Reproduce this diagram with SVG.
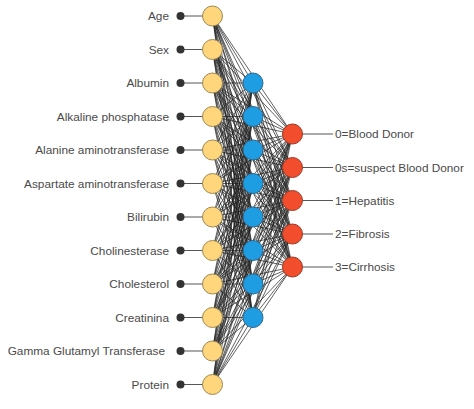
<svg xmlns="http://www.w3.org/2000/svg" width="474" height="409" viewBox="0 0 474 409">
<style>
.lbl{font-family:"Liberation Sans",Arial,sans-serif;font-size:11.8px;fill:#4a4a4a}
.inl{font-family:"Liberation Sans",Arial,sans-serif;font-size:11.8px;fill:#4a4a4a;text-anchor:end}
.lead{stroke:#555;stroke-width:1;fill:none}
.net{stroke:#1e1e1e;stroke-width:0.7;fill:none}
.dot{fill:#333}
.in{fill:#FFD67C;stroke:#9C8852;stroke-width:1}
.hid{fill:#1E9DE2;stroke:#2D6990;stroke-width:1}
.out{fill:#F24D2C;stroke:#9A3A26;stroke-width:1}
</style>
<rect width="474" height="409" fill="#fff"/>
<g id="connectors">
<path class="net" d="M212.5 16L253 83M212.5 16L253 116.5M212.5 16L253 150M212.5 16L253 183.5M212.5 16L253 217M212.5 16L253 250.5M212.5 16L253 284M212.5 16L253 317.5M212.5 16L292.5 134M212.5 16L292.5 167.5M212.5 16L292.5 200.5M212.5 16L292.5 234M212.5 16L292.5 267"/>
<path class="net" d="M212.5 49.5L253 83M212.5 49.5L253 116.5M212.5 49.5L253 150M212.5 49.5L253 183.5M212.5 49.5L253 217M212.5 49.5L253 250.5M212.5 49.5L253 284M212.5 49.5L253 317.5M212.5 49.5L292.5 134M212.5 49.5L292.5 167.5M212.5 49.5L292.5 200.5M212.5 49.5L292.5 234M212.5 49.5L292.5 267"/>
<path class="net" d="M212.5 83L253 83M212.5 83L253 116.5M212.5 83L253 150M212.5 83L253 183.5M212.5 83L253 217M212.5 83L253 250.5M212.5 83L253 284M212.5 83L253 317.5M212.5 83L292.5 134M212.5 83L292.5 167.5M212.5 83L292.5 200.5M212.5 83L292.5 234M212.5 83L292.5 267"/>
<path class="net" d="M212.5 116.5L253 83M212.5 116.5L253 116.5M212.5 116.5L253 150M212.5 116.5L253 183.5M212.5 116.5L253 217M212.5 116.5L253 250.5M212.5 116.5L253 284M212.5 116.5L253 317.5M212.5 116.5L292.5 134M212.5 116.5L292.5 167.5M212.5 116.5L292.5 200.5M212.5 116.5L292.5 234M212.5 116.5L292.5 267"/>
<path class="net" d="M212.5 150L253 83M212.5 150L253 116.5M212.5 150L253 150M212.5 150L253 183.5M212.5 150L253 217M212.5 150L253 250.5M212.5 150L253 284M212.5 150L253 317.5M212.5 150L292.5 134M212.5 150L292.5 167.5M212.5 150L292.5 200.5M212.5 150L292.5 234M212.5 150L292.5 267"/>
<path class="net" d="M212.5 183.5L253 83M212.5 183.5L253 116.5M212.5 183.5L253 150M212.5 183.5L253 183.5M212.5 183.5L253 217M212.5 183.5L253 250.5M212.5 183.5L253 284M212.5 183.5L253 317.5M212.5 183.5L292.5 134M212.5 183.5L292.5 167.5M212.5 183.5L292.5 200.5M212.5 183.5L292.5 234M212.5 183.5L292.5 267"/>
<path class="net" d="M212.5 217L253 83M212.5 217L253 116.5M212.5 217L253 150M212.5 217L253 183.5M212.5 217L253 217M212.5 217L253 250.5M212.5 217L253 284M212.5 217L253 317.5M212.5 217L292.5 134M212.5 217L292.5 167.5M212.5 217L292.5 200.5M212.5 217L292.5 234M212.5 217L292.5 267"/>
<path class="net" d="M212.5 250.5L253 83M212.5 250.5L253 116.5M212.5 250.5L253 150M212.5 250.5L253 183.5M212.5 250.5L253 217M212.5 250.5L253 250.5M212.5 250.5L253 284M212.5 250.5L253 317.5M212.5 250.5L292.5 134M212.5 250.5L292.5 167.5M212.5 250.5L292.5 200.5M212.5 250.5L292.5 234M212.5 250.5L292.5 267"/>
<path class="net" d="M212.5 284L253 83M212.5 284L253 116.5M212.5 284L253 150M212.5 284L253 183.5M212.5 284L253 217M212.5 284L253 250.5M212.5 284L253 284M212.5 284L253 317.5M212.5 284L292.5 134M212.5 284L292.5 167.5M212.5 284L292.5 200.5M212.5 284L292.5 234M212.5 284L292.5 267"/>
<path class="net" d="M212.5 317.5L253 83M212.5 317.5L253 116.5M212.5 317.5L253 150M212.5 317.5L253 183.5M212.5 317.5L253 217M212.5 317.5L253 250.5M212.5 317.5L253 284M212.5 317.5L253 317.5M212.5 317.5L292.5 134M212.5 317.5L292.5 167.5M212.5 317.5L292.5 200.5M212.5 317.5L292.5 234M212.5 317.5L292.5 267"/>
<path class="net" d="M212.5 351L253 83M212.5 351L253 116.5M212.5 351L253 150M212.5 351L253 183.5M212.5 351L253 217M212.5 351L253 250.5M212.5 351L253 284M212.5 351L253 317.5M212.5 351L292.5 134M212.5 351L292.5 167.5M212.5 351L292.5 200.5M212.5 351L292.5 234M212.5 351L292.5 267"/>
<path class="net" d="M212.5 384.5L253 83M212.5 384.5L253 116.5M212.5 384.5L253 150M212.5 384.5L253 183.5M212.5 384.5L253 217M212.5 384.5L253 250.5M212.5 384.5L253 284M212.5 384.5L253 317.5M212.5 384.5L292.5 134M212.5 384.5L292.5 167.5M212.5 384.5L292.5 200.5M212.5 384.5L292.5 234M212.5 384.5L292.5 267"/>
<path class="net" d="M253 83L292.5 134M253 83L292.5 167.5M253 83L292.5 200.5M253 83L292.5 234M253 83L292.5 267"/>
<path class="net" d="M253 116.5L292.5 134M253 116.5L292.5 167.5M253 116.5L292.5 200.5M253 116.5L292.5 234M253 116.5L292.5 267"/>
<path class="net" d="M253 150L292.5 134M253 150L292.5 167.5M253 150L292.5 200.5M253 150L292.5 234M253 150L292.5 267"/>
<path class="net" d="M253 183.5L292.5 134M253 183.5L292.5 167.5M253 183.5L292.5 200.5M253 183.5L292.5 234M253 183.5L292.5 267"/>
<path class="net" d="M253 217L292.5 134M253 217L292.5 167.5M253 217L292.5 200.5M253 217L292.5 234M253 217L292.5 267"/>
<path class="net" d="M253 250.5L292.5 134M253 250.5L292.5 167.5M253 250.5L292.5 200.5M253 250.5L292.5 234M253 250.5L292.5 267"/>
<path class="net" d="M253 284L292.5 134M253 284L292.5 167.5M253 284L292.5 200.5M253 284L292.5 234M253 284L292.5 267"/>
<path class="net" d="M253 317.5L292.5 134M253 317.5L292.5 167.5M253 317.5L292.5 200.5M253 317.5L292.5 234M253 317.5L292.5 267"/>
<path class="lead" d="M180.5 16H203M180.5 49.5H203M180.5 83H203M180.5 116.5H203M180.5 150H203M180.5 183.5H203M180.5 217H203M180.5 250.5H203M180.5 284H203M180.5 317.5H203M180.5 351H203M180.5 384.5H203"/>
<path class="lead" d="M302 134H333M302 167.5H333M302 200.5H333M302 234H333M302 267H333"/>
</g>
<g id="in-age"><text class="inl" x="169" y="20">Age</text><circle class="dot" cx="180.5" cy="16" r="4"/><circle class="in" cx="212.5" cy="16" r="10"/></g>
<g id="in-sex"><text class="inl" x="169" y="53.5">Sex</text><circle class="dot" cx="180.5" cy="49.5" r="4"/><circle class="in" cx="212.5" cy="49.5" r="10"/></g>
<g id="in-albumin"><text class="inl" x="169" y="87">Albumin</text><circle class="dot" cx="180.5" cy="83" r="4"/><circle class="in" cx="212.5" cy="83" r="10"/></g>
<g id="in-alkaline"><text class="inl" x="169" y="120.5">Alkaline phosphatase</text><circle class="dot" cx="180.5" cy="116.5" r="4"/><circle class="in" cx="212.5" cy="116.5" r="10"/></g>
<g id="in-alanine"><text class="inl" x="169" y="154">Alanine aminotransferase</text><circle class="dot" cx="180.5" cy="150" r="4"/><circle class="in" cx="212.5" cy="150" r="10"/></g>
<g id="in-aspartate"><text class="inl" x="169" y="187.5">Aspartate aminotransferase</text><circle class="dot" cx="180.5" cy="183.5" r="4"/><circle class="in" cx="212.5" cy="183.5" r="10"/></g>
<g id="in-bilirubin"><text class="inl" x="169" y="221">Bilirubin</text><circle class="dot" cx="180.5" cy="217" r="4"/><circle class="in" cx="212.5" cy="217" r="10"/></g>
<g id="in-cholinesterase"><text class="inl" x="169" y="254.5">Cholinesterase</text><circle class="dot" cx="180.5" cy="250.5" r="4"/><circle class="in" cx="212.5" cy="250.5" r="10"/></g>
<g id="in-cholesterol"><text class="inl" x="169" y="288">Cholesterol</text><circle class="dot" cx="180.5" cy="284" r="4"/><circle class="in" cx="212.5" cy="284" r="10"/></g>
<g id="in-creatinina"><text class="inl" x="169" y="321.5">Creatinina</text><circle class="dot" cx="180.5" cy="317.5" r="4"/><circle class="in" cx="212.5" cy="317.5" r="10"/></g>
<g id="in-ggt"><text class="inl" x="165" y="355">Gamma Glutamyl Transferase</text><circle class="dot" cx="180.5" cy="351" r="4"/><circle class="in" cx="212.5" cy="351" r="10"/></g>
<g id="in-protein"><text class="inl" x="169" y="388.5">Protein</text><circle class="dot" cx="180.5" cy="384.5" r="4"/><circle class="in" cx="212.5" cy="384.5" r="10"/></g>
<g id="h1"><circle class="hid" cx="253" cy="83" r="10"/></g>
<g id="h2"><circle class="hid" cx="253" cy="116.5" r="10"/></g>
<g id="h3"><circle class="hid" cx="253" cy="150" r="10"/></g>
<g id="h4"><circle class="hid" cx="253" cy="183.5" r="10"/></g>
<g id="h5"><circle class="hid" cx="253" cy="217" r="10"/></g>
<g id="h6"><circle class="hid" cx="253" cy="250.5" r="10"/></g>
<g id="h7"><circle class="hid" cx="253" cy="284" r="10"/></g>
<g id="h8"><circle class="hid" cx="253" cy="317.5" r="10"/></g>
<g id="out-0"><circle class="out" cx="292.5" cy="134" r="10"/><text class="lbl" x="335" y="138">0=Blood Donor</text></g>
<g id="out-0s"><circle class="out" cx="292.5" cy="167.5" r="10"/><text class="lbl" x="335" y="171.5">0s=suspect Blood Donor</text></g>
<g id="out-1"><circle class="out" cx="292.5" cy="200.5" r="10"/><text class="lbl" x="335" y="204.5">1=Hepatitis</text></g>
<g id="out-2"><circle class="out" cx="292.5" cy="234" r="10"/><text class="lbl" x="335" y="238">2=Fibrosis</text></g>
<g id="out-3"><circle class="out" cx="292.5" cy="267" r="10"/><text class="lbl" x="335" y="271">3=Cirrhosis</text></g>
</svg>
